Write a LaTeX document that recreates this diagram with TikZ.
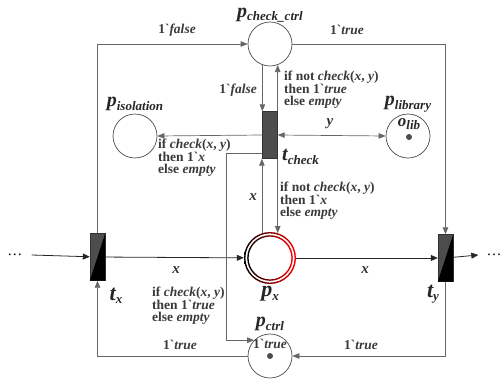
\documentclass[tikz,border=0pt]{standalone}
\usepackage{fontspec}
\setmainfont{Liberation Serif}
\usetikzlibrary{arrows.meta,calc}
\definecolor{arcgray}{HTML}{666666}
\definecolor{txtgray}{HTML}{3A3A3A}
\definecolor{transgray}{HTML}{4D4D4D}
\newcommand{\netname}[3][20]{{\fontsize{#1}{#1}\selectfont\bfseries\itshape #2}\raisebox{-3.5pt}{\fontsize{13}{13}\selectfont\bfseries\itshape #3}}
\newcommand{\bq}{\textasciigrave}
\begin{document}
\begin{tikzpicture}[x=1pt, y=-1pt,
    place/.style={circle, draw=black!70, line width=0.7pt, minimum size=44pt, inner sep=0pt},
    trans/.style={rectangle, draw=black!80, fill=transgray, minimum width=15pt, minimum height=47pt, inner sep=0pt},
    arc/.style={draw=arcgray, line width=0.7pt, -{Triangle[length=7pt,width=5.5pt]}},
    flow/.style={draw=black!85, line width=0.8pt, -{Triangle[length=7pt,width=6pt]}},
    lbl/.style={text=txtgray, font=\fontsize{13.5}{12.5}\selectfont\bfseries, align=left, inner sep=0pt},
    var/.style={text=black!80, font=\fontsize{15}{15}\selectfont\bfseries\itshape, inner sep=0pt},
    netlabel/.style={text=black!85, inner sep=0pt},
    token/.style={circle, fill=black!70, minimum size=6pt, inner sep=0pt}]
    \useasboundingbox (0,0) rectangle (504,386);

    % places
    \node[place] (pcc) at (270,44) {};
    \node[place] (piso) at (135,136) {};
    \node[place] (plib) at (408,136) {};
    \node[token] (tlib) at (409,137) {};
    \node[place] (pctrl) at (270,356) {};
    \node[token] (tctrl) at (270,356) {};
    \node[circle, minimum size=52pt, inner sep=0pt] (px) at (270,258) {};
    \shade[left color=black, middle color=black!45, right color=red, even odd rule]
        (px.center) circle (26pt) circle (24.6pt);
    \shade[left color=black, middle color=black!45, right color=red, even odd rule]
        (px.center) circle (22.8pt) circle (21.4pt);

    % transitions
    \node[trans] (tcheck) at (270,135) {};
    \node[trans] (tx) at (97.5,257) {};
    \fill[black] (tx.south west) -- (tx.north east) -- (tx.south east) -- cycle;
    \node[trans] (ty) at (445.5,258) {};
    \fill[black] (ty.south west) -- (ty.north east) -- (ty.south east) -- cycle;

    \node[font=\fontsize{15}{15}\selectfont, inner sep=1pt] (dotsl) at (15,255) {\dots};
    \node[font=\fontsize{15}{15}\selectfont, inner sep=1pt] (dotsr) at (494,255) {\dots};

    % names
    \node[netlabel] (pccname) at (270,15) {\netname{p}{check\_ctrl}};
    \node[netlabel] (pisoname) at (135,104) {\netname{p}{isolation}};
    \node[netlabel] (plibname) at (408,104) {\netname{p}{library}};
    \node[netlabel] (olib) at (409,124) {\netname[17]{o}{lib}};
    \node[netlabel, anchor=west] (tcheckname) at (282,157) {\netname{t}{check}};
    \node[netlabel] (pxname) at (270,294) {\netname[22]{p}{x}};
    \node[netlabel] (txname) at (116,296) {\netname[22]{t}{x}};
    \node[netlabel] (tyname) at (433,294) {\netname[22]{t}{y}};
    \node[netlabel] (pctrlname) at (270,324) {\netname{p}{ctrl}};

    % main flow
    \draw[flow] ([xshift=8pt]dotsl.east) -- (tx);
    \draw[flow] (tx) -- (px);
    \draw[flow] (px) -- (ty);
    \draw[flow] (ty) -- ([xshift=-7pt]dotsr.west);

    % control arcs
    \draw[arc] (tx.north) |- (pcc.west);
    \draw[arc] (pcc.east) -| (ty.north);
    \draw[arc] (ty.south) |- (pctrl.east);
    \draw[arc] (pctrl.west) -| (tx.south);
    \draw[arc] (pcc.250) -- (pcc.250 |- tcheck.north);
    \draw[arc] (tcheck.north east) -- (tcheck.north east |- pcc.290);
    \draw[arc] (tcheck.west) -- (piso.east);
    \draw[arc, {Triangle[length=7pt,width=5.5pt]}-{Triangle[length=7pt,width=5.5pt]}] (tcheck.east) -- (plib.west);
    \draw[arc] (px.108) -- (px.108 |- tcheck.south);
    \draw[arc] (tcheck.south east) -- (tcheck.south east |- px.72);
    \draw[arc] ([yshift=-18pt]tcheck.west) -| ($(pctrl.135)+(-28pt,0)$) -- (pctrl.135);

    % inscriptions
    \node[lbl] at (177,30) {1\bq\textit{false}};
    \node[lbl] at (347,30) {1\bq\textit{true}};
    \node[lbl, anchor=east] at (257,90) {1\bq\textit{false}};
    \node[lbl, anchor=west] at (284,90) {if not \textit{check}(\textit{x}, \textit{y})\\then 1\bq\textit{true}\\else \textit{empty}};
    \node[lbl, anchor=west] at (158,158) {if \textit{check}(\textit{x}, \textit{y})\\then 1\bq\textit{x}\\else \textit{empty}};
    \node[var] at (330,124) {y};
    \node[var] at (253,197) {x};
    \node[lbl, anchor=west] at (280,201) {if not \textit{check}(\textit{x}, \textit{y})\\then 1\bq\textit{x}\\else \textit{empty}};
    \node[var] at (176,270) {x};
    \node[var] at (365,270) {x};
    \node[lbl, anchor=west] at (152,306) {if \textit{check}(\textit{x}, \textit{y})\\then 1\bq\textit{true}\\else \textit{empty}};
    \node[lbl] at (270,344) {1\bq\textit{true}};
    \node[lbl] at (180,345) {1\bq\textit{true}};
    \node[lbl] at (361,345) {1\bq\textit{true}};
\end{tikzpicture}
\end{document}
